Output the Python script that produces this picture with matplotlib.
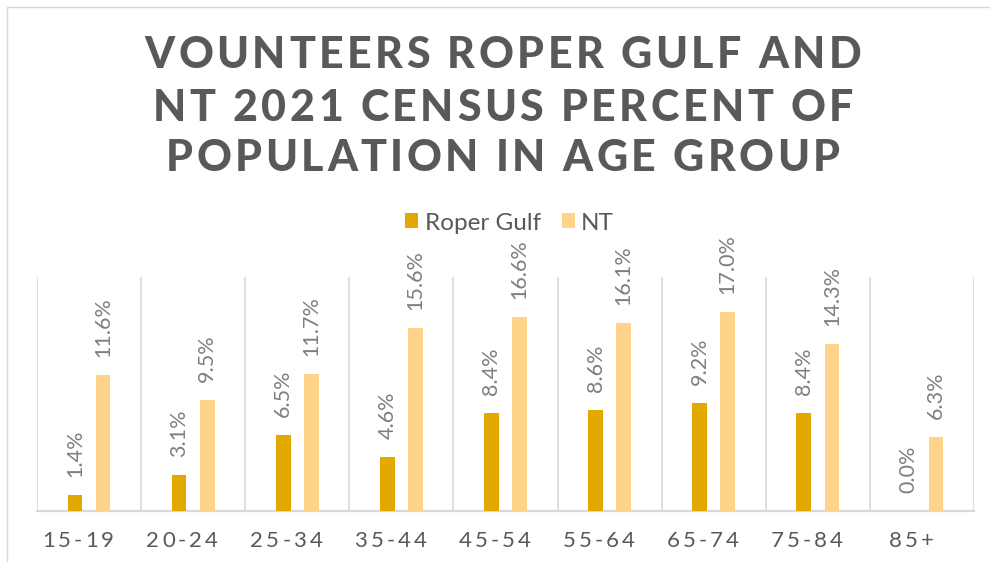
import matplotlib
matplotlib.use("Agg")
import matplotlib.pyplot as plt
from matplotlib.font_manager import FontProperties
from matplotlib.patches import Rectangle, Patch

# ---------------- data ----------------
categories = ["15-19", "20-24", "25-34", "35-44", "45-54", "55-64", "65-74", "75-84", "85+"]
roper_gulf = [1.4, 3.1, 6.5, 4.6, 8.4, 8.6, 9.2, 8.4, 0.0]
nt = [11.6, 9.5, 11.7, 15.6, 16.6, 16.1, 17.0, 14.3, 6.3]
series_names = ["Roper Gulf", "NT"]
title_lines = ["VOUNTEERS ROPER GULF AND", "NT 2021 CENSUS PERCENT OF", "POPULATION IN AGE GROUP"]

# ---------------- style ----------------
C_ROPER = "#E2AA00"
C_NT = "#FFD38A"
C_GRID = "#D9D9D9"
C_TEXT = "#595959"
C_LABEL = "#7F7F7F"
W, H, DPI = 990, 562, 100

fig = plt.figure(figsize=(W / DPI, H / DPI), dpi=DPI)
fig.patch.set_facecolor("white")
renderer = fig.canvas.get_renderer()

# chart border (partially visible)
fig.patches.append(Rectangle((7 / W, -0.1), 1.2, 1 - 7 / H + 0.1, transform=fig.transFigure,
                             fill=False, edgecolor=C_GRID, lw=1.0))

ax = fig.add_axes([37 / W, 1 - 511 / H, (974 - 37) / W, (511 - 277) / H])
ax.set_xlim(-0.5, len(categories) - 0.5)
ax.set_ylim(0, 20)

x = list(range(len(categories)))
bw = 0.14
off = 0.135
ax.bar([i - off for i in x], roper_gulf, width=bw, color=C_ROPER, zorder=3)
ax.bar([i + off for i in x], nt, width=bw, color=C_NT, zorder=3)

for i in range(len(categories) + 1):
    ax.axvline(i - 0.5, color=C_GRID, lw=1.2, zorder=1)

for s in ["top", "right", "left"]:
    ax.spines[s].set_visible(False)
ax.spines["bottom"].set_color(C_GRID)
ax.spines["bottom"].set_linewidth(1.6)
ax.set_yticks([])
ax.set_xticks([])

label_font = FontProperties(family="Lato", size=15.5)
for i in x:
    for xv, v in ((i - off, roper_gulf[i]), (i + off, nt[i])):
        ax.annotate(f"{v:.1f}%", xy=(xv, v), xytext=(0, 13), textcoords="offset points",
                    rotation=90, ha="center", va="bottom", color=C_LABEL,
                    fontproperties=label_font, zorder=4)

# ---------- letter-spaced text helper ----------
def tw(s, fp):
    return renderer.get_text_width_height_descent(s, fp, ismath=False)[0]

def advances(text, fp):
    base = tw("HH", fp)
    return [tw("H" + ch + "H", fp) - base for ch in text]

def spaced_text(text, cx, by, fp, track, color):
    adv = advances(text, fp)
    total = sum(adv) + track * (len(text) - 1)
    xx = cx - total / 2.0
    for ch, a in zip(text, adv):
        if ch != " ":
            fig.text(xx / W, 1 - by / H, ch, fontproperties=fp, color=color,
                     ha="left", va="baseline")
        xx += a + track

# title
title_fp = FontProperties(family="Lato", weight="black", size=31)
adv1 = advances(title_lines[0], title_fp)
track_title = (717 - sum(adv1)) / (len(title_lines[0]) - 1)
for line, by in zip(title_lines, [68, 121, 171]):
    spaced_text(line, 503, by, title_fp, track_title, C_TEXT)

# x tick labels
tick_fp = FontProperties(family="Lato", size=16)
for i, cat in enumerate(categories):
    px = ax.transData.transform((i, 0))[0]
    spaced_text(cat, px - 11, 547, tick_fp, 3.0, C_TEXT)

# legend
handles = [Patch(facecolor=C_ROPER, edgecolor="none"), Patch(facecolor=C_NT, edgecolor="none")]
leg = fig.legend(handles, series_names, loc="center", bbox_to_anchor=(509.5 / W, 1 - 223 / H),
                 ncol=2, frameon=False, prop=FontProperties(family="Lato", size=17.5),
                 handlelength=0.54, handleheight=0.57, handletextpad=0.25, columnspacing=0.86,
                 borderaxespad=0, borderpad=0)
for t in leg.get_texts():
    t.set_color(C_TEXT)

fig.savefig("out.png", dpi=DPI)
